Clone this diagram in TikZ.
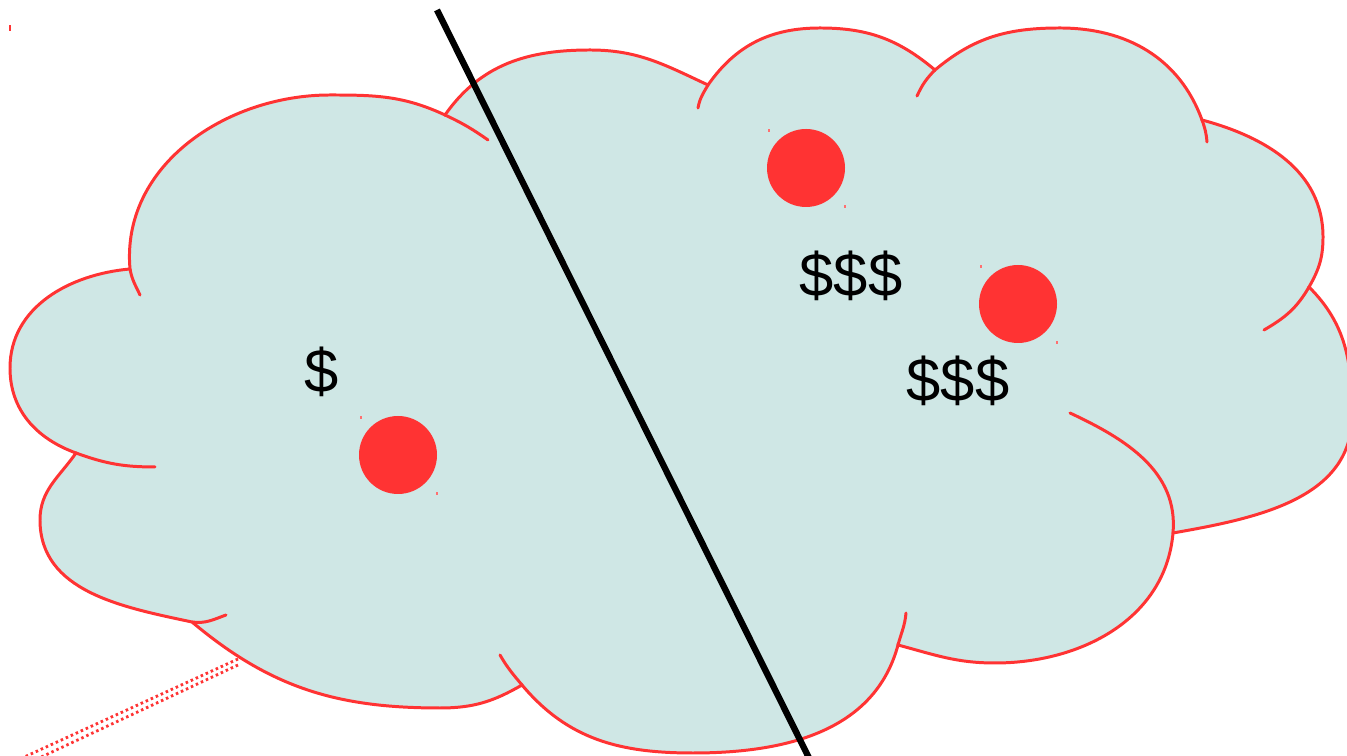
\documentclass[tikz,border=0pt]{standalone}
\usepackage{fontspec}
\setmainfont{Liberation Sans}

\definecolor{cloudfill}{RGB}{207,231,229}
\definecolor{cloudred}{RGB}{255,51,51}

\begin{document}
\begin{tikzpicture}[x=0.1mm,y=0.1mm,
 outline/.style={draw=cloudred,line width=0.85pt},
 lobe/.style={outline,line cap=round},
 dot/.style={circle,fill=cloudred,minimum size=7.8mm,inner sep=0pt},
 price/.style={font=\fontsize{17.5}{21}\selectfont,inner sep=0pt},
 divide/.style={line width=1.8pt},
 tail/.style={draw=cloudred,line width=0.8pt,dash pattern=on 0.25mm off 0.3mm},
 tick/.style={fill=cloudred!70}]
\useasboundingbox (0,0) rectangle (1347,756);
% cloud body
\path[outline,fill=cloudfill] (445,641) to[out=55,in=180] (590,706) to[out=0,in=155] (708,671)
 to[out=55,in=180] (820,728) to[out=0,in=140] (935,686)
 to[out=40,in=180] (1060,728) to[out=0,in=110] (1202,636)
 to[out=-15,in=90] (1323,519) to[out=-90,in=60] (1309,469)
 to[out=-45,in=90] (1352,340) to[out=-90,in=10] (1173,223)
 to[out=-95,in=0] (995,93) to[out=180,in=-15] (898,111)
 to[out=-105,in=0] (693,3) to[out=180,in=-50] (522,71)
 to[out=210,in=0] (440,48) to[out=180,in=-40] (192,134)
 to[out=168,in=-90] (40,236) to[out=90,in=-125] (76,303)
 to[out=160,in=-90] (10,388) to[out=90,in=185] (130,487)
 to[out=95,in=180] (330,661) to[out=0,in=155] (445,641) -- cycle;
% inner arcs
\draw[lobe] (445,641) to[out=-25,in=145] (488,616);
\draw[lobe] (708,671) to[out=240,in=80] (698,648);
\draw[lobe] (935,686) to[out=225,in=65] (917,660);
\draw[lobe] (1202,636) to[out=-70,in=95] (1207,614);
\draw[lobe] (1309,469) to[out=-120,in=30] (1264,426);
\draw[lobe] (1173,223) to[out=85,in=-25] (1070,343);
\draw[lobe] (898,111) to[out=75,in=-95] (906,143);
\draw[lobe] (522,71) to[out=130,in=-60] (500,101);
\draw[lobe] (192,134) to[out=-8,in=200] (226,141);
\draw[lobe] (76,303) to[out=-20,in=180] (155,289);
\draw[lobe] (130,487) to[out=-80,in=115] (140,461);
% tail
\coordinate (tailA) at (238,97);
\coordinate (tailB) at (238,91);
\coordinate (tailAend) at (20,-3);
\coordinate (tailBend) at (37,-3);
\draw[tail] (tailA) -- (tailAend);
\draw[tail] (tailB) -- (tailBend);
% dots and prices
\node[dot] (dotTop) at (806,588) {};
\node[dot] (dotRight) at (1018,452) {};
\node[dot] (dotLeft) at (398,301) {};
\foreach \d in {dotTop,dotRight,dotLeft}{
 \fill[tick] ([shift={(-38,36)}]\d.center) rectangle ++(1.5,3);
 \fill[tick] ([shift={(38,-40)}]\d.center) rectangle ++(1.5,3);
}
\node[price] (cheap) at (322,384) {\$};
\node[price] (dearTop) at (851,480) {\$\$\$};
\node[price] (dearRight) at (958,375) {\$\$\$};
\fill[cloudred] (9,725) rectangle (11,731);
% divider
\coordinate (cutTop) at (437,746);
\coordinate (cutBottom) at (811,-6);
\draw[divide] (cutTop) -- (cutBottom);
\end{tikzpicture}
\end{document}
